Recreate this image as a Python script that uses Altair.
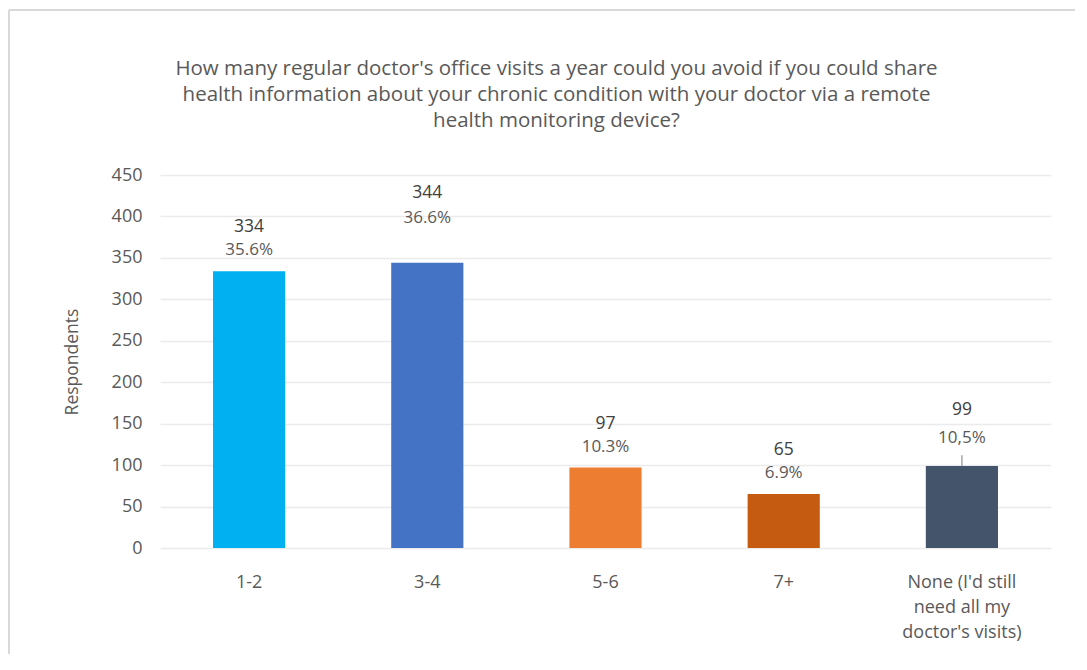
import altair as alt
import pandas as pd

categories = ["1-2", "3-4", "5-6", "7+", "None (I'd still need all my doctor's visits)"]
counts = [334, 344, 97, 65, 99]
pct_labels = ["35.6%", "36.6%", "10.3%", "6.9%", "10,5%"]
colors = ["#00B0F0", "#4472C4", "#ED7D31", "#C55A11", "#44546A"]
y_ticks = [0, 50, 100, 150, 200, 250, 300, 350, 400, 450]
title_lines = [
    "How many regular doctor's office visits a year could you avoid if you could share",
    "health information about your chronic condition with your doctor via a remote",
    "health monitoring device?",
]

df = pd.DataFrame({"cat": categories, "count": counts, "pct": pct_labels})

FONT = "Open Sans"
GRAY = "#595959"

label_expr = (
    'datum.label == "None (I\'d still need all my doctor\'s visits)" ? '
    '["None (I\'d still", "need all my", "doctor\'s visits)"] : datum.label'
)

x_enc = alt.X(
    "cat:N",
    sort=categories,
    scale=alt.Scale(paddingInner=0.595, paddingOuter=0.2975),
    axis=alt.Axis(
        title=None, labelAngle=0, domain=False, ticks=False, grid=False,
        labelFontSize=18, labelColor=GRAY, labelFont=FONT, labelPadding=25,
        labelLineHeight=25, labelExpr=label_expr, labelLimit=300,
    ),
)
y_scale = alt.Scale(domain=[0, 450], nice=False)

base = alt.Chart(df)

bars = base.mark_bar().encode(
    x=x_enc,
    y=alt.Y(
        "count:Q", scale=y_scale,
        axis=alt.Axis(
            title="Respondents", values=y_ticks, domain=False, ticks=False,
            labelFontSize=18, labelColor=GRAY, labelFont=FONT, labelPadding=18,
            titleFontSize=17.5, titleColor=GRAY, titleFont=FONT, titleFontWeight="normal",
            titlePadding=30, gridColor="#EBEBEB", gridWidth=1.5,
        ),
    ),
    color=alt.Color("cat:N", scale=alt.Scale(domain=categories, range=colors), legend=None),
)

normal = ["1-2", "5-6", "7+"]

def labels(sel, dy_count, dy_pct):
    b = base.transform_filter(alt.FieldOneOfPredicate(field="cat", oneOf=sel))
    c = b.mark_text(fontSize=17.5, font=FONT, color="#404040", dy=dy_count, baseline="middle").encode(
        x=alt.X("cat:N", sort=categories), y=alt.Y("count:Q", scale=y_scale), text="count:Q"
    )
    p = b.mark_text(fontSize=17, font=FONT, color=GRAY, dy=dy_pct, baseline="middle").encode(
        x=alt.X("cat:N", sort=categories), y=alt.Y("count:Q", scale=y_scale), text="pct:N"
    )
    return c + p

lab_normal = labels(normal, -44, -21)
lab_34 = labels(["3-4"], -70, -45)
lab_none = labels([categories[4]], -56, -28)

leader = base.transform_filter(alt.datum.cat == categories[4]).transform_calculate(
    top="datum.count + 13"
).mark_rule(color="#A6A6A6", strokeWidth=1.5).encode(
    x=alt.X("cat:N", sort=categories), y=alt.Y("count:Q", scale=y_scale), y2="top:Q"
)

border = alt.Chart(df.head(1)).mark_rule(color="#D9D9D9", strokeWidth=2).encode(
    x=alt.value(-151), x2=alt.value(1000), y=alt.value(-165)
) + alt.Chart(df.head(1)).mark_rule(color="#D9D9D9", strokeWidth=2).encode(
    x=alt.value(-151), y=alt.value(-165), y2=alt.value(490)
)

chart = alt.layer(bars, leader, lab_normal, lab_34, lab_none, border).properties(
    width=891,
    height=373,
    background="white",
    title=alt.TitleParams(
        text=title_lines, fontSize=20.5, font=FONT, color=GRAY, fontWeight="normal",
        anchor="middle", dx=-49, offset=0, dy=122, lineHeight=26,
    ),
    padding={"left": 152, "top": 167, "right": 24, "bottom": 106},
    autosize=alt.AutoSizeParams(type="none"),
).configure_view(strokeWidth=0, stroke="transparent")

chart.save("out.html", embed_options={"renderer": "svg", "actions": False})
